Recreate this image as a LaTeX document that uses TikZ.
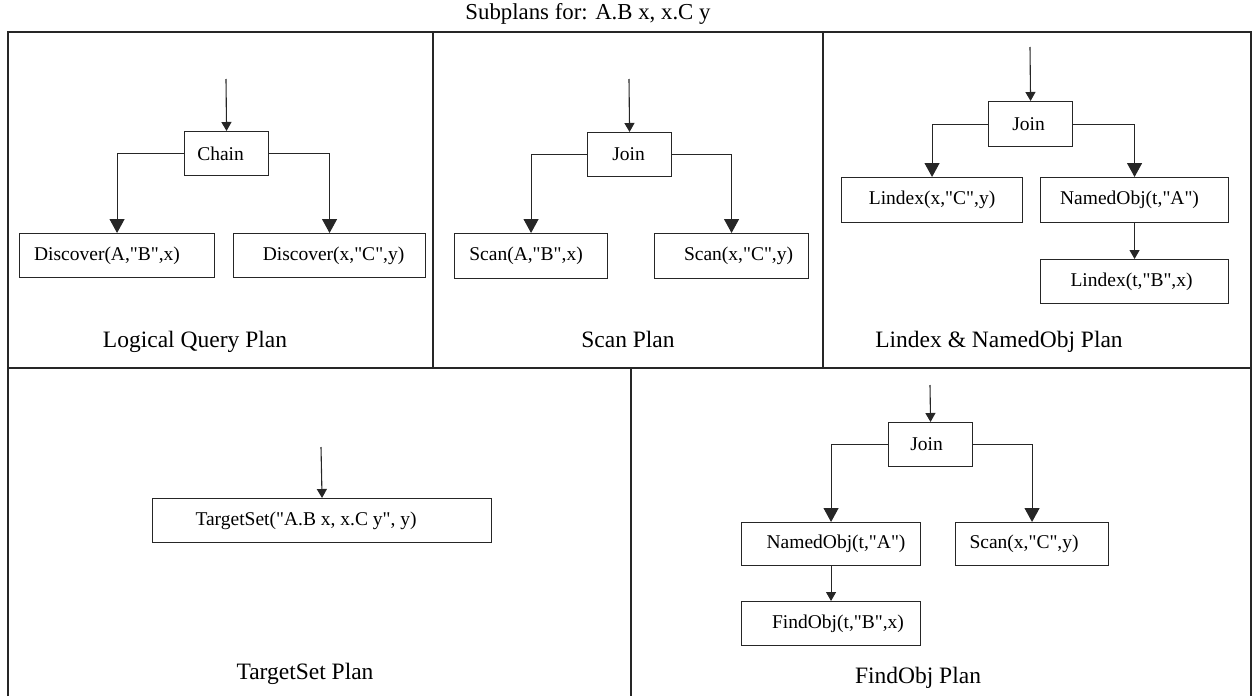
\documentclass[tikz,border=0pt]{standalone}
\usepackage{fontspec}
\setmainfont{Liberation Serif}[Ligatures=TeXOff]
\usetikzlibrary{arrows.meta}
\newcommand\txo[2]{\hspace*{#1pt}#2\hspace*{-#1pt}}
\begin{document}
\begin{tikzpicture}[x=1pt,y=-1pt,
  frame/.style={line width=1.1pt, draw=black!85},
  box/.style={draw=black!85, line width=1.1pt, rectangle, inner sep=0pt, anchor=north west, font=\fontsize{19.5}{22}\selectfont},
  plabel/.style={anchor=base, font=\fontsize{23.5}{28}\selectfont, inner sep=0pt},
  bigarr/.style={line width=1.1pt, draw=black!85, -{Triangle[length=14pt,width=15pt]}},
  smallarr/.style={line width=1.1pt, draw=black!85, -{Triangle[length=9pt,width=10pt]}}]
\useasboundingbox (0,0) rectangle (1252,696);
% title
\node[anchor=base, inner sep=0pt, font=\fontsize{22.8}{26}\selectfont] (title) at (588,19) {Subplans for: A.B x, x.C y};
% frame
\draw[frame] (8,696) -- (8,32) -- (1251,32) -- (1251,696);
\draw[frame] (8,368) -- (1251,368);
\draw[frame] (433,32) -- (433,368);
\draw[frame] (823,32) -- (823,368);
\draw[frame] (631,368) -- (631,696);

% Panel 1: Logical Query Plan
\node[box, minimum width=84pt, minimum height=44pt] (chain) at (184,131) {\txo{-6}{Chain}};
\node[box, minimum width=195pt, minimum height=44pt] (d1) at (19,233) {\txo{-10}{Discover(A,"B",x)}};
\node[box, minimum width=192pt, minimum height=44pt] (d2) at (233,233) {\txo{4}{Discover(x,"C",y)}};
\coordinate (in1) at (226,79);
\draw[smallarr] (in1) -- (chain.north);
\draw[bigarr] (chain.west) -| (d1.north);
\draw[bigarr] (chain.east) -| (d2.north);
\node[plabel] (lab1) at (195,347) {Logical Query Plan};

% Panel 2: Scan Plan
\node[box, minimum width=84pt, minimum height=44pt] (join2) at (587,132) {\txo{-1}{Join}};
\node[box, minimum width=153pt, minimum height=45pt] (s1) at (454,233) {\txo{-5}{Scan(A,"B",x)}};
\node[box, minimum width=154pt, minimum height=45pt] (s2) at (654,233) {\txo{7}{Scan(x,"C",y)}};
\coordinate (in2) at (629,79);
\draw[smallarr] (in2) -- (join2.north);
\draw[bigarr] (join2.west) -| (s1.north);
\draw[bigarr] (join2.east) -| (s2.north);
\node[plabel] (lab2) at (628,347) {Scan Plan};

% Panel 3: Lindex & NamedObj Plan
\node[box, minimum width=84pt, minimum height=45pt] (join3) at (988,101) {\txo{-2}{Join}};
\node[box, minimum width=181pt, minimum height=45pt] (lx1) at (841,177) {Lindex(x,"C",y)};
\node[box, minimum width=188pt, minimum height=45pt] (no3) at (1040,177) {\txo{-5}{NamedObj(t,"A")}};
\node[box, minimum width=188pt, minimum height=44pt] (lx2) at (1040,259) {\txo{-3}{Lindex(t,"B",x)}};
\coordinate (in3) at (1030,47);
\draw[smallarr] (in3) -- (join3.north);
\draw[bigarr] (join3.west) -| (lx1.north);
\draw[bigarr] (join3.east) -| (no3.north);
\draw[smallarr] (no3.south) -- (lx2.north);
\node[plabel] (lab3) at (999,347) {Lindex \& NamedObj Plan};

% Panel 4: TargetSet Plan
\node[box, minimum width=339pt, minimum height=44pt] (ts) at (152,498) {\txo{-16}{TargetSet("A.B x, x.C y", y)}};
\coordinate (in4) at (321,447);
\draw[smallarr] (in4) -- (ts.north);
\node[plabel] (lab4) at (305,679) {TargetSet Plan};

% Panel 5: FindObj Plan
\node[box, minimum width=84pt, minimum height=44pt] (join5) at (888,422) {\txo{-4}{Join}};
\node[box, minimum width=179pt, minimum height=43pt] (no5) at (741,522) {\txo{5}{NamedObj(t,"A")}};
\node[box, minimum width=153pt, minimum height=43pt] (sc5) at (955,522) {\txo{-8}{Scan(x,"C",y)}};
\node[box, minimum width=179pt, minimum height=44pt] (fo5) at (741,601) {\txo{7}{FindObj(t,"B",x)}};
\coordinate (in5) at (930,385);
\draw[smallarr] (in5) -- (join5.north);
\draw[bigarr] (join5.west) -| (no5.north);
\draw[bigarr] (join5.east) -| (sc5.north);
\draw[smallarr] (no5.south) -- (fo5.north);
\node[plabel] (lab5) at (918,683) {FindObj Plan};
\end{tikzpicture}
\end{document}
